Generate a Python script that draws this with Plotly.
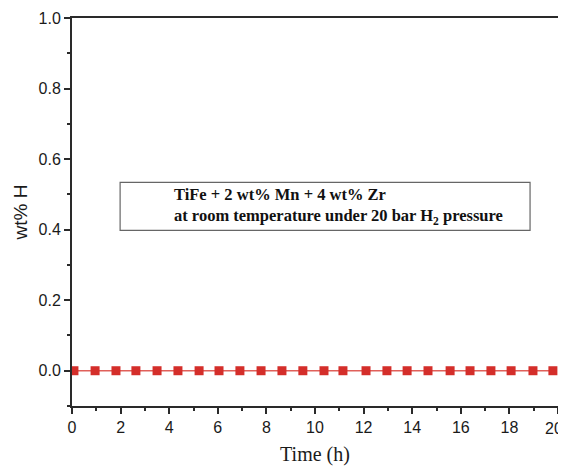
import plotly.graph_objects as go

time_h = [0.08, 0.95, 1.81, 2.63, 3.5, 4.36, 5.23, 6.05, 6.91, 7.78, 8.64, 9.5,
          10.37, 11.15, 12.1, 12.96, 13.79, 14.65, 15.56, 16.38, 17.24, 18.07, 18.97, 19.79]
wt_h = [0.0] * len(time_h)

x_ticks = [0, 2, 4, 6, 8, 10, 12, 14, 16, 18, 20]
y_ticks = [0.0, 0.2, 0.4, 0.6, 0.8, 1.0]

tick_font = dict(family="Liberation Sans, Arial", size=16, color="#1a1a1a")

fig = go.Figure()
fig.add_trace(go.Scatter(
    x=time_h, y=wt_h, mode="lines+markers",
    line=dict(color="#e0605a", width=1.5),
    marker=dict(symbol="square", size=9, color="#d42e2a"),
    showlegend=False,
))

axis_common = dict(
    showline=True, linecolor="#2a2a2a", linewidth=2, mirror=True,
    ticks="outside", tickcolor="#2a2a2a", ticklen=6, tickwidth=2,
    showgrid=False, zeroline=False, automargin=False,
    tickfont=tick_font,
    minor=dict(ticks="outside", ticklen=3, tickwidth=2, tickcolor="#2a2a2a", showgrid=False),
)

# last x label sits at the page edge; drawn as an annotation so it is not clipped
x_labels = [str(v) for v in x_ticks[:-1]] + [""]
fig.update_xaxes(range=[0, 20], tickvals=x_ticks, ticktext=x_labels,
                 minor_dtick=1,
                 title=dict(text="Time (h)", font=dict(family="Liberation Serif, Times New Roman", size=20, color="#1a1a1a"), standoff=13),
                 **axis_common)
fig.update_yaxes(range=[-0.1, 1.0], tickvals=y_ticks, ticktext=[f"{v:.1f}" for v in y_ticks],
                 minor_dtick=0.1, minor_tick0=0,
                 title=dict(text="wt% H", font=dict(family="Liberation Sans, Arial", size=19, color="#1a1a1a"), standoff=6),
                 **axis_common)

fig.add_annotation(xref="x", yref="paper", x=x_ticks[-1], y=0, xanchor="right", yanchor="middle",
                   xshift=6, yshift=-22, showarrow=False, borderpad=0, text=str(x_ticks[-1]), font=tick_font)

fig.add_shape(type="rect", xref="x", yref="y", x0=1.98, x1=18.85, y0=0.398, y1=0.534,
              line=dict(color="#666666", width=1.2), fillcolor="white", layer="above")
fig.add_annotation(xref="x", yref="y", x=4.1, y=0.466, xanchor="left", yanchor="middle",
                   align="left", showarrow=False,
                   text="TiFe + 2 wt% Mn + 4 wt% Zr<br>at room temperature under 20 bar H<sub>2</sub> pressure",
                   font=dict(family="Liberation Serif, Times New Roman", size=16.5, color="#111111", weight="bold"))

fig.update_layout(
    width=558, height=458,
    margin=dict(l=64, r=8, t=10, b=60),
    paper_bgcolor="white", plot_bgcolor="white",
)

fig.write_html("out.html")
